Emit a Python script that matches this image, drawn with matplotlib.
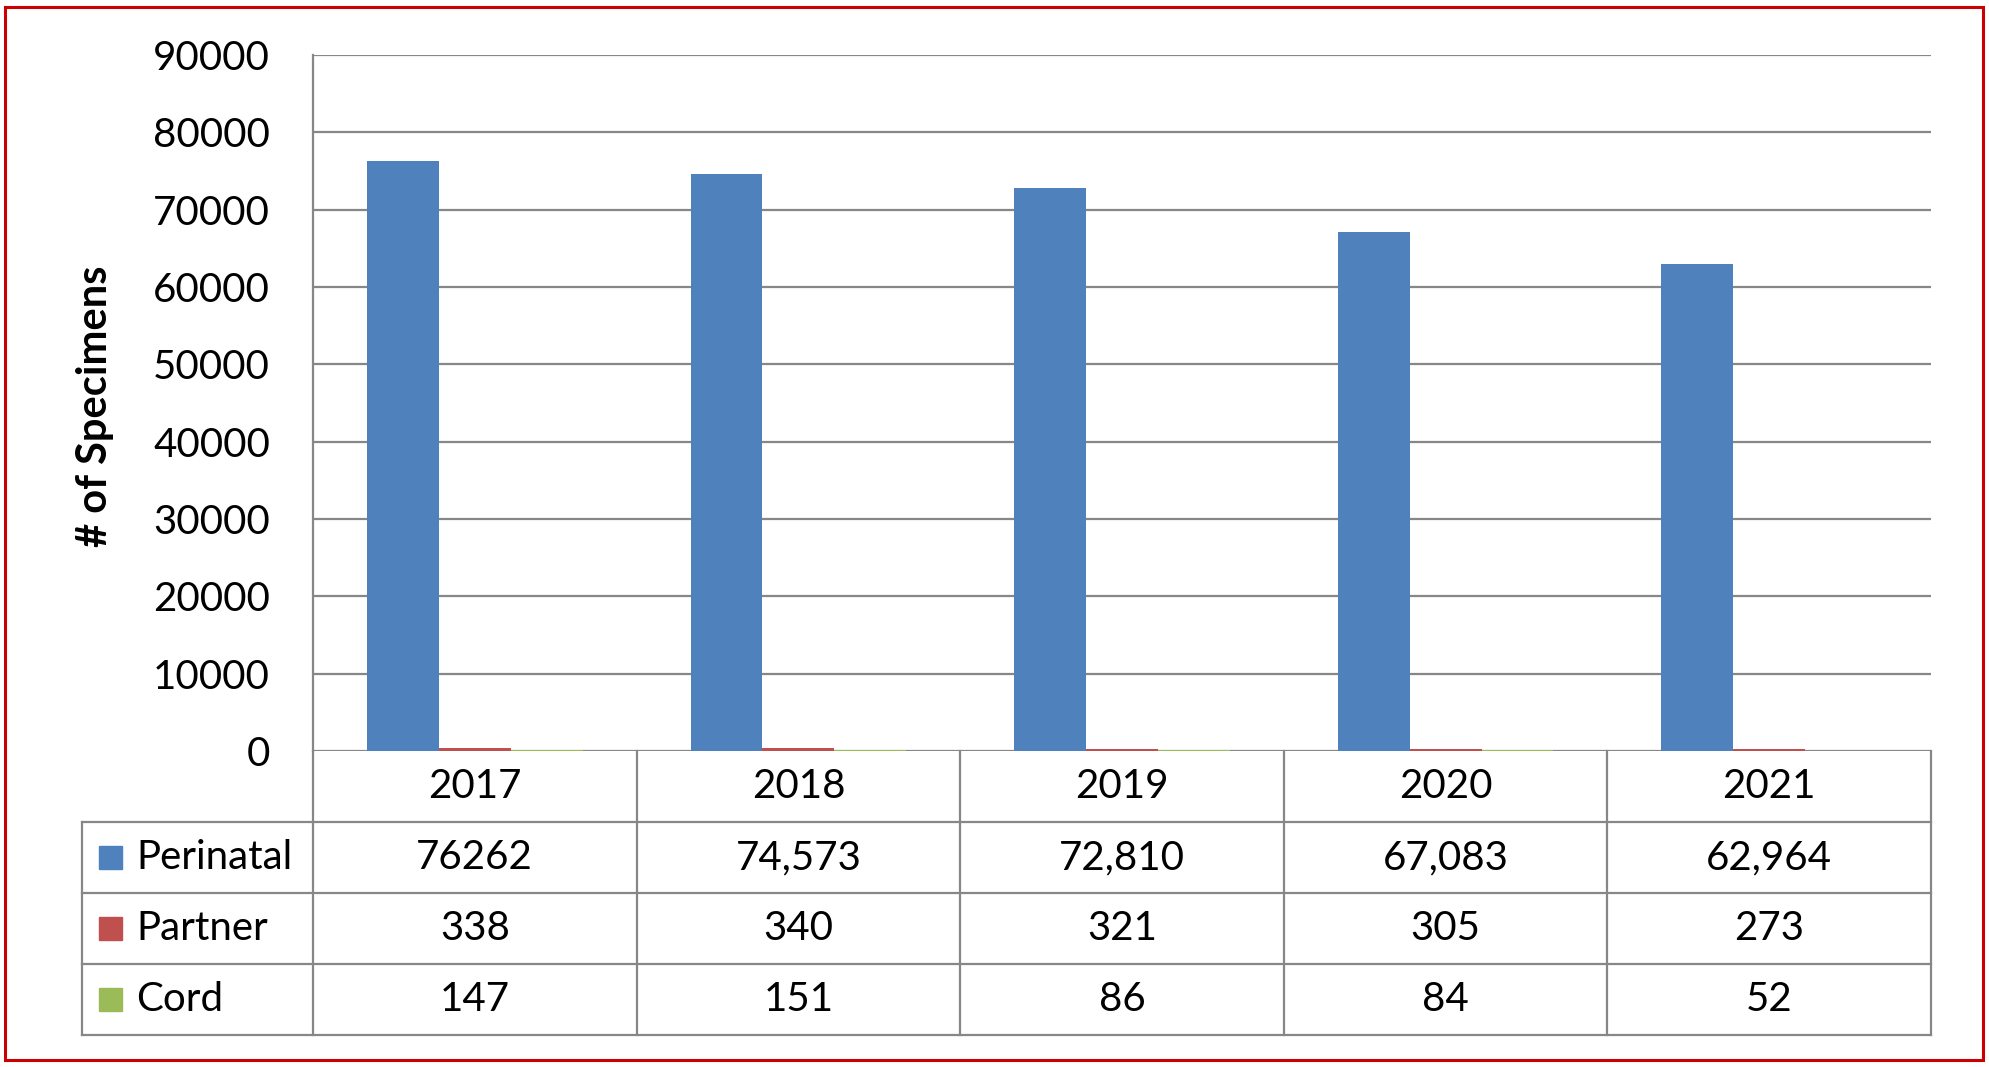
import numpy as np
import matplotlib.pyplot as plt
from matplotlib.patches import Rectangle
from matplotlib.transforms import blended_transform_factory

# Data
years = ['2017', '2018', '2019', '2020', '2021']
series = ['Perinatal', 'Partner', 'Cord']
perinatal = [76262, 74573, 72810, 67083, 62964]
partner = [338, 340, 321, 305, 273]
cord = [147, 151, 86, 84, 52]
perinatal_text = ['76262', '74,573', '72,810', '67,083', '62,964']
partner_text = ['338', '340', '321', '305', '273']
cord_text = ['147', '151', '86', '84', '52']
colors = ['#4F81BD', '#C0504D', '#9BBB59']

plt.rcParams['font.family'] = ['Lato', 'DejaVu Sans']

W, H = 1989, 1067
fig = plt.figure(figsize=(W / 100, H / 100), dpi=100)
ax = fig.add_axes([313 / W, 1 - 751 / H, (1931 - 313) / W, (751 - 55) / H])

grid_c = '#878787'
x = np.arange(len(years))
bw = 0.222
for k, (vals, c) in enumerate(zip([perinatal, partner, cord], colors)):
    ax.bar(x + (k - 1) * bw, vals, bw, color=c, zorder=3)

ax.set_xlim(-0.5, 4.5)
ax.set_ylim(0, 90000)
ax.set_yticks(range(0, 90001, 10000))
ax.set_xticks([])
ax.tick_params(axis='y', length=0, labelsize=29, pad=31)
ax.grid(axis='y', color=grid_c, lw=1.6, zorder=0)
for s in ['top', 'right', 'bottom']:
    ax.spines[s].set_visible(False)
ax.spines['left'].set_color(grid_c)
ax.spines['left'].set_linewidth(1.6)

ax.set_ylabel('# of Specimens', fontsize=30, fontweight='bold', va='center')
ax.yaxis.set_label_coords(-0.135, 0.495)

# Data table under the plot
tr = blended_transform_factory(ax.transData, ax.transAxes)
rh = 71 / 696
x_left = -0.5 + (82 - 313) / 323.6
for r in range(1, 5):
    ax.plot([x_left, 4.5], [-r * rh, -r * rh], color=grid_c, lw=1.6,
            transform=tr, clip_on=False)
for xv in np.arange(-0.5, 5, 1.0):
    ax.plot([xv, xv], [0, -4 * rh], color=grid_c, lw=1.6,
            transform=tr, clip_on=False)
ax.plot([x_left, x_left], [-rh, -4 * rh], color=grid_c, lw=1.6,
        transform=tr, clip_on=False)

for i, yr in enumerate(years):
    ax.text(i, -0.5 * rh, yr, fontsize=29, ha='center', va='center',
            transform=tr)

rows = [perinatal_text, partner_text, cord_text]
sq_x0 = -0.5 + (99 - 313) / 323.6
sq_w = 23 / 323.6
sq_h = 23 / 696
txt_x = -0.5 + (136 - 313) / 323.6
for r, (name, vals, c) in enumerate(zip(series, rows, colors)):
    yc = -(r + 1.5) * rh
    ax.add_patch(Rectangle((sq_x0, yc - sq_h / 2), sq_w, sq_h, color=c,
                           transform=tr, clip_on=False))
    ax.text(txt_x, yc, name, fontsize=29, ha='left', va='center',
            transform=tr)
    for i, v in enumerate(vals):
        ax.text(i, yc, v, fontsize=29, ha='center', va='center',
                transform=tr)

# Red frame around the chart
fig.patches.append(Rectangle((5 / W, 7 / H), 1978 / W, 1053 / H, fill=False,
                             edgecolor='#CC0000', lw=2.2,
                             transform=fig.transFigure))

fig.savefig('out.png', dpi=100)
